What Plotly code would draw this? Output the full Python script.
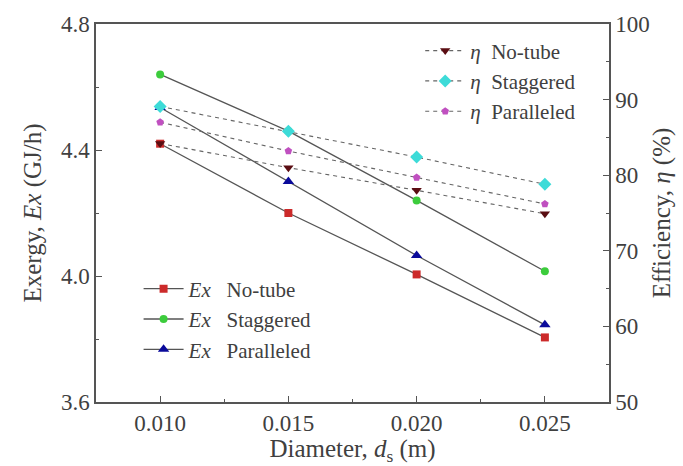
import plotly.graph_objects as go

diameter = [0.010, 0.015, 0.020, 0.025]

ex_notube = [4.42, 4.20, 4.005, 3.805]
ex_staggered = [4.64, 4.46, 4.24, 4.015]
ex_paralleled = [4.535, 4.30, 4.065, 3.845]

eta_notube = [84.2, 81.0, 78.0, 74.9]
eta_staggered = [89.1, 85.8, 82.4, 78.8]
eta_paralleled = [87.0, 83.2, 79.7, 76.2]

FONT = "Liberation Serif"
AX = "#555555"
TXT = "#404040"
NB = "\u00a0"

fig = go.Figure()

ex_series = [
    ("<i>Ex</i>" + NB * 3 + "No-tube", ex_notube, "square", "#cc2a2a", 8),
    ("<i>Ex</i>" + NB * 3 + "Staggered", ex_staggered, "circle", "#3ccc3c", 8),
    ("<i>Ex</i>" + NB * 3 + "Paralleled", ex_paralleled, "triangle-up", "#0a0a9a", 10),
]
for name, ys, sym, col, sz in ex_series:
    fig.add_trace(go.Scatter(
        x=diameter, y=ys, name=name, mode="lines+markers",
        line=dict(color="#555555", width=1.3),
        marker=dict(symbol=sym, color=col, size=sz),
        legend="legend", yaxis="y",
    ))

eta_series = [
    ("<i>η</i>" + NB * 2 + "No-tube", eta_notube, "triangle-down", "#5a0d12", 9),
    ("<i>η</i>" + NB * 2 + "Staggered", eta_staggered, "diamond", "#3ddbd8", 10),
    ("<i>η</i>" + NB * 2 + "Paralleled", eta_paralleled, "pentagon", "#c050c0", 8),
]
for name, ys, sym, col, sz in eta_series:
    fig.add_trace(go.Scatter(
        x=diameter, y=ys, name=name, mode="lines+markers",
        line=dict(color="#666666", width=1.1, dash="4px,4px"),
        marker=dict(symbol=sym, color=col, size=sz),
        legend="legend2", yaxis="y2",
    ))

tickfont = dict(family=FONT, size=23, color=TXT)
titlefont = dict(family=FONT, size=25, color=TXT)
legfont = dict(family=FONT, size=21, color=TXT)

fig.update_layout(
    width=683, height=466,
    margin=dict(l=96, r=71, t=20, b=64),
    plot_bgcolor="white", paper_bgcolor="white",
    font=dict(family=FONT, size=21, color=TXT),
    xaxis=dict(
        range=[0.0075, 0.0275],
        tickvals=[0.010, 0.015, 0.020, 0.025],
        ticktext=["0.010", "0.015", "0.020", "0.025"],
        ticks="inside", ticklen=6, tickcolor=AX,
        minor=dict(tickvals=[0.0125, 0.0175, 0.0225], ticks="inside", ticklen=3, tickcolor=AX),
        showline=True, linecolor=AX, linewidth=1.5, mirror=True,
        showgrid=False, zeroline=False,
        tickfont=tickfont,
        title=dict(text="Diameter, <i>d</i><sub>s</sub> (m)", font=titlefont, standoff=0),
    ),
    yaxis=dict(
        range=[3.6, 4.8],
        tickvals=[3.6, 4.0, 4.4, 4.8],
        ticktext=["3.6", "4.0", "4.4", "4.8"],
        ticks="inside", ticklen=6, tickcolor=AX,
        minor=dict(tickvals=[3.8, 4.2, 4.6], ticks="inside", ticklen=3, tickcolor=AX),
        showline=True, linecolor=AX, linewidth=1.5,
        showgrid=False, zeroline=False,
        tickfont=tickfont,
        title=dict(text="Exergy, <i>Ex</i> (GJ/h)", font=titlefont, standoff=12),
    ),
    yaxis2=dict(
        range=[50, 100], overlaying="y", side="right",
        tickvals=[50, 60, 70, 80, 90, 100],
        ticks="inside", ticklen=6, tickcolor=AX,
        minor=dict(tickvals=[55, 65, 75, 85, 95], ticks="inside", ticklen=3, tickcolor=AX),
        showline=True, linecolor=AX, linewidth=1.5,
        showgrid=False, zeroline=False,
        tickfont=tickfont,
        title=dict(text="Efficiency, <i>η</i> (%)", font=titlefont, standoff=4),
    ),
    legend=dict(
        x=0.083, y=0.353, xanchor="left", yanchor="top",
        bgcolor="rgba(0,0,0,0)", font=legfont,
        tracegroupgap=0, itemwidth=40,
    ),
    legend2=dict(
        x=0.632, y=0.983, xanchor="left", yanchor="top",
        bgcolor="rgba(0,0,0,0)", font=legfont,
        tracegroupgap=0, itemwidth=40,
    ),
)

fig.write_html("out.html")
